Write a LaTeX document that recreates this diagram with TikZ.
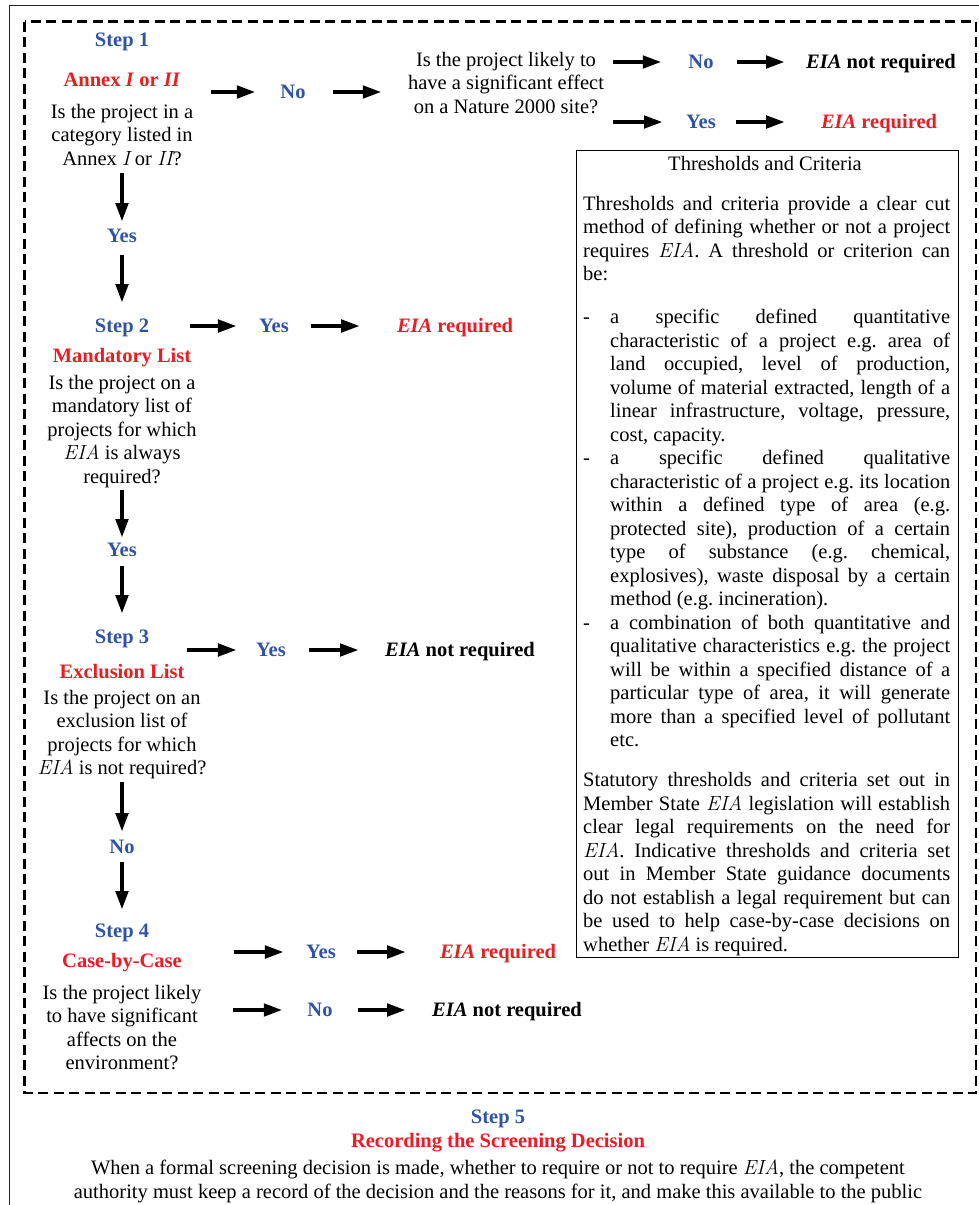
\documentclass[tikz,border=0pt]{standalone}
\usepackage{fontspec}
\setmainfont{Liberation Serif}
\usetikzlibrary{arrows.meta}
\definecolor{stepblue}{RGB}{47,84,166}
\definecolor{hred}{RGB}{236,28,36}
\newcommand\lmi[1]{{\fontfamily{lmr}\selectfont\itshape #1}}
\newcommand\eia{\lmi{EIA}}
\begin{document}
\begin{tikzpicture}[x=1pt,y=-1pt,
  font=\fontsize{20.5}{23.5}\selectfont,
  lbl/.style={inner sep=0pt, text height=13.5pt, text depth=0pt, font=\fontsize{20.5}{23.5}\selectfont\bfseries},
  steplbl/.style={lbl, text=stepblue},
  headlbl/.style={lbl, text=hred},
  yn/.style={lbl, text=stepblue},
  res/.style={lbl, text=black},
  resred/.style={lbl, text=hred},
  qtext/.style={inner sep=0pt, align=center, anchor=north, font=\fontsize{20.5}{23.5}\selectfont},
  arr/.style={-{Triangle[length=19pt,width=12pt]}, line width=4.5pt}
]
\useasboundingbox (0,0) rectangle (978,1205);
\fill[white] (0,0) rectangle (978,1205);
% outer frame
\draw[line width=1.3pt, black!85] (9.5,5.5) rectangle (990,1220);
% dashed frame
\draw[line width=2.7pt, dash pattern=on 10pt off 5.5pt] (24.5,21.5) rectangle (976,1093);

% ---------- Step 1
\node[steplbl] (s1) at (122,40) {Step 1};
\node[headlbl] (h1) at (122,80) {Annex \textit{I} or \textit{II}};
\node[qtext] (q1) at (122,104) {Is the project in a\\category listed in\\Annex \lmi{I} or \lmi{II}?};
\node[yn] (no1) at (293,92) {No};
\node[qtext] (q1r) at (506,52) {Is the project likely to\\have a significant effect\\on a Nature 2000 site?};
\draw[arr, shorten <=30pt, shorten >=24.5pt] (no1 -| h1.east) -- (no1.west);
\draw[arr, shorten <=27.5pt, shorten >=26pt] (no1.east) -- (no1 -| q1r.west);

\node[yn] (no2) at (701,62) {No};
\node[res] (r2) at (881,62) {\textit{EIA} not required};
\node[yn] (yes2) at (701,122) {Yes};
\node[resred] (r3) at (879,122) {\textit{EIA} required};
\draw[arr, shorten <=9pt, shorten >=26.5pt] (no2 -| q1r.east) -- (no2.west);
\draw[arr, shorten <=23.5pt, shorten >=21pt] (no2.east) -- (r2.west);
\draw[arr, shorten <=9pt, shorten >=23pt] (yes2 -| q1r.east) -- (yes2.west);
\draw[arr, shorten <=20pt, shorten >=35.6pt] (yes2.east) -- (r3.west);

\node[yn] (y1) at (122,236) {Yes};
\draw[arr, shorten <=7pt, shorten >=7pt] (q1.south) -- (y1.north);

% ---------- Step 2
\node[steplbl] (s2) at (122,326) {Step 2};
\draw[arr, shorten <=12pt, shorten >=16pt] (y1.south) -- (s2.north);
\node[yn] (y3) at (274,326) {Yes};
\node[resred] (r4) at (455,326) {\textit{EIA} required};
\draw[arr, shorten <=41pt, shorten >=22pt] (s2.east) -- (y3.west);
\draw[arr, shorten <=22pt, shorten >=36.6pt] (y3.east) -- (r4.west);
\node[headlbl] (h2) at (122,356) {Mandatory List};
\node[qtext] (q2) at (122,375) {Is the project on a\\mandatory list of\\projects for which\\\eia{} is always\\required?};
\node[yn] (y2) at (122,550) {Yes};
\draw[arr, shorten <=2pt, shorten >=5pt] (q2.south) -- (y2.north);

% ---------- Step 3
\node[steplbl] (s3) at (122,637) {Step 3};
\draw[arr, shorten <=9pt, shorten >=16pt] (y2.south) -- (s3.north);
\node[yn] (y4) at (271,650) {Yes};
\node[res] (r5) at (460,650) {\textit{EIA} not required};
\draw[arr, shorten <=38pt, shorten >=19pt] (y4 -| s3.east) -- (y4.west);
\draw[arr, shorten <=23pt, shorten >=26pt] (y4.east) -- (r5.west);
\node[headlbl] (h3) at (122,672) {Exclusion List};
\node[qtext] (q3) at (122,690) {Is the project on an\\exclusion list of\\projects for which\\\eia{} is not required?};
\node[yn] (n3) at (122,847) {No};
\draw[arr, shorten <=3pt, shorten >=8pt] (q3.south) -- (n3.north);

% ---------- Step 4
\node[steplbl] (s4) at (122,931) {Step 4};
\draw[arr, shorten <=8pt, shorten >=14pt] (n3.south) -- (s4.north);
\node[headlbl] (h4) at (122,961) {Case-by-Case};
\node[qtext] (q4) at (122,985) {Is the project likely\\to have significant\\affects on the\\environment?};
\node[yn] (y5) at (321,952) {Yes};
\node[resred] (r6) at (498,952) {\textit{EIA} required};
\draw[arr, shorten <=52pt, shorten >=22pt] (y5 -| h4.east) -- (y5.west);
\draw[arr, shorten <=21pt, shorten >=33.6pt] (y5.east) -- (r6.west);
\node[yn] (n5) at (320,1010) {No};
\node[res] (r7) at (507,1010) {\textit{EIA} not required};
\draw[arr, shorten <=31.5pt, shorten >=24.5pt] (n5 -| q4.east) -- (n5.west);
\draw[arr, shorten <=25.5pt, shorten >=26pt] (n5.east) -- (r7.west);

% ---------- Thresholds box
\node[draw, line width=1pt, minimum width=382pt, minimum height=807pt, anchor=north west, inner sep=0pt] (tcbox) at (576,150) {};
\node[inner sep=0pt, text height=13.5pt, text depth=0pt] (tctitle) at (765,164) {Thresholds and Criteria};
\node[inner sep=0pt, anchor=north west] (tcbody) at (583,196) {\begin{minipage}[t]{367pt}
\fontsize{20.5}{23.5}\selectfont\frenchspacing\parindent=0pt
\spaceskip=0.25em plus 1em minus 0.1em
\tolerance=10000 \hyphenpenalty=10000 \exhyphenpenalty=10000
Thresholds and criteria provide a clear cut\linebreak
method of defining whether or not a project\linebreak
requires \eia. A threshold or criterion can\linebreak
be:\par
\vspace{19.5pt}
\hangindent=27pt\hangafter=1\makebox[27pt][l]{-}a specific defined quantitative\linebreak
characteristic of a project e.g. area of\linebreak
land occupied, level of production,\linebreak
volume of material extracted, length of a\linebreak
linear infrastructure, voltage, pressure,\linebreak
cost, capacity.\par
\hangindent=27pt\hangafter=1\makebox[27pt][l]{-}a specific defined qualitative\linebreak
characteristic of a project e.g. its location\linebreak
within a defined type of area (e.g.\linebreak
protected site), production of a certain\linebreak
type of substance (e.g. chemical,\linebreak
explosives), waste disposal by a certain\linebreak
method (e.g. incineration).\par
\hangindent=27pt\hangafter=1\makebox[27pt][l]{-}a combination of both quantitative and\linebreak
qualitative characteristics e.g. the project\linebreak
will be within a specified distance of a\linebreak
particular type of area, it will generate\linebreak
more than a specified level of pollutant\linebreak
etc.\par
\vspace{16.5pt}
Statutory thresholds and criteria set out in\linebreak
Member State \eia{} legislation will establish\linebreak
clear legal requirements on the need for\linebreak
\eia. Indicative thresholds and criteria set\linebreak
out in Member State guidance documents\linebreak
do not establish a legal requirement but can\linebreak
be used to help case-by-case decisions on\linebreak
whether \eia{} is required.
\end{minipage}};

% ---------- Step 5
\node[steplbl] (s5) at (498,1117) {Step 5};
\node[headlbl] (h5) at (498,1141) {Recording the Screening Decision};
\node[qtext] (p5) at (498,1160) {When a formal screening decision is made, whether to require or not to require \eia, the competent\\authority must keep a record of the decision and the reasons for it, and make this available to the public};
\end{tikzpicture}
\end{document}
